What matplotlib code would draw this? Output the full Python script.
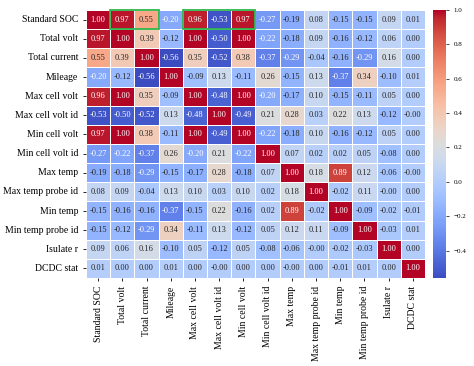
import numpy as np
import matplotlib
matplotlib.use("Agg")
import matplotlib.pyplot as plt
import seaborn as sns
from matplotlib.patches import Rectangle

labels = ["Standard SOC", "Total volt", "Total current", "Mileage", "Max cell volt",
          "Max cell volt id", "Min cell volt", "Min cell volt id", "Max temp",
          "Max temp probe id", "Min temp", "Min temp probe id", "Isulate r", "DCDC stat"]

row_soc = [1.00, 0.97, 0.55, -0.20, 0.96, -0.53, 0.97, -0.27, -0.19, 0.08, -0.15, -0.15, 0.09, 0.01]
row_tvolt = [0.97, 1.00, 0.39, -0.12, 1.00, -0.50, 1.00, -0.22, -0.18, 0.09, -0.16, -0.12, 0.06, 0.00]
row_tcur = [0.55, 0.39, 1.00, -0.56, 0.35, -0.52, 0.38, -0.37, -0.29, -0.04, -0.16, -0.29, 0.16, 0.00]
row_mile = [-0.20, -0.12, -0.56, 1.00, -0.09, 0.13, -0.11, 0.26, -0.15, 0.13, -0.37, 0.34, -0.10, 0.01]
row_maxcv = [0.96, 1.00, 0.35, -0.09, 1.00, -0.48, 1.00, -0.20, -0.17, 0.10, -0.15, -0.11, 0.05, 0.00]
row_maxcvid = [-0.53, -0.50, -0.52, 0.13, -0.48, 1.00, -0.49, 0.21, 0.28, 0.03, 0.22, 0.13, -0.12, -0.00]
row_mincv = [0.97, 1.00, 0.38, -0.11, 1.00, -0.49, 1.00, -0.22, -0.18, 0.10, -0.16, -0.12, 0.05, 0.00]
row_mincvid = [-0.27, -0.22, -0.37, 0.26, -0.20, 0.21, -0.22, 1.00, 0.07, 0.02, 0.02, 0.05, -0.08, 0.00]
row_maxt = [-0.19, -0.18, -0.29, -0.15, -0.17, 0.28, -0.18, 0.07, 1.00, 0.18, 0.89, 0.12, -0.06, -0.00]
row_maxtpid = [0.08, 0.09, -0.04, 0.13, 0.10, 0.03, 0.10, 0.02, 0.18, 1.00, -0.02, 0.11, -0.00, 0.00]
row_mint = [-0.15, -0.16, -0.16, -0.37, -0.15, 0.22, -0.16, 0.02, 0.89, -0.02, 1.00, -0.09, -0.02, -0.01]
row_mintpid = [-0.15, -0.12, -0.29, 0.34, -0.11, 0.13, -0.12, 0.05, 0.12, 0.11, -0.09, 1.00, -0.03, 0.01]
row_iso = [0.09, 0.06, 0.16, -0.10, 0.05, -0.12, 0.05, -0.08, -0.06, -0.00, -0.02, -0.03, 1.00, 0.00]
row_dcdc = [0.01, 0.00, 0.00, 0.01, 0.00, -0.00, 0.00, 0.00, -0.00, 0.00, -0.01, 0.01, 0.00, 1.00]

corr = np.array([row_soc, row_tvolt, row_tcur, row_mile, row_maxcv, row_maxcvid, row_mincv,
                 row_mincvid, row_maxt, row_maxtpid, row_mint, row_mintpid, row_iso, row_dcdc])

# highlighted cells: (row, first col, n cols)
highlights = [(0, 1, 2), (0, 4, 3)]

plt.rcParams['font.family'] = ['Liberation Serif', 'DejaVu Serif']

fig = plt.figure(figsize=(4.74, 3.66), dpi=100)
ax = fig.add_axes([86/474, 88/366, 339/474, 268/366])
cax = fig.add_axes([433/474, 88/366, 13/474, 268/366])

sns.heatmap(corr, ax=ax, cbar_ax=cax, cmap='coolwarm', annot=True, fmt='.2f',
            annot_kws={'size': 6}, linewidths=0.5, linecolor='white',
            xticklabels=labels, yticklabels=labels)

ax.tick_params(axis='both', labelsize=7, length=2, width=0.6)
ax.set_xticklabels(labels, rotation=90)
ax.set_yticklabels(labels, rotation=0)

for r, c, n in highlights:
    ax.add_patch(Rectangle((c, r), n, 1, fill=False, edgecolor='#2db84a', lw=1.3, clip_on=False))

cax.tick_params(labelsize=5, length=2, width=0.5)
cax.set_yticks([-0.4, -0.2, 0.0, 0.2, 0.4, 0.6, 0.8, 1.0])

fig.savefig('out.png', dpi=100)
